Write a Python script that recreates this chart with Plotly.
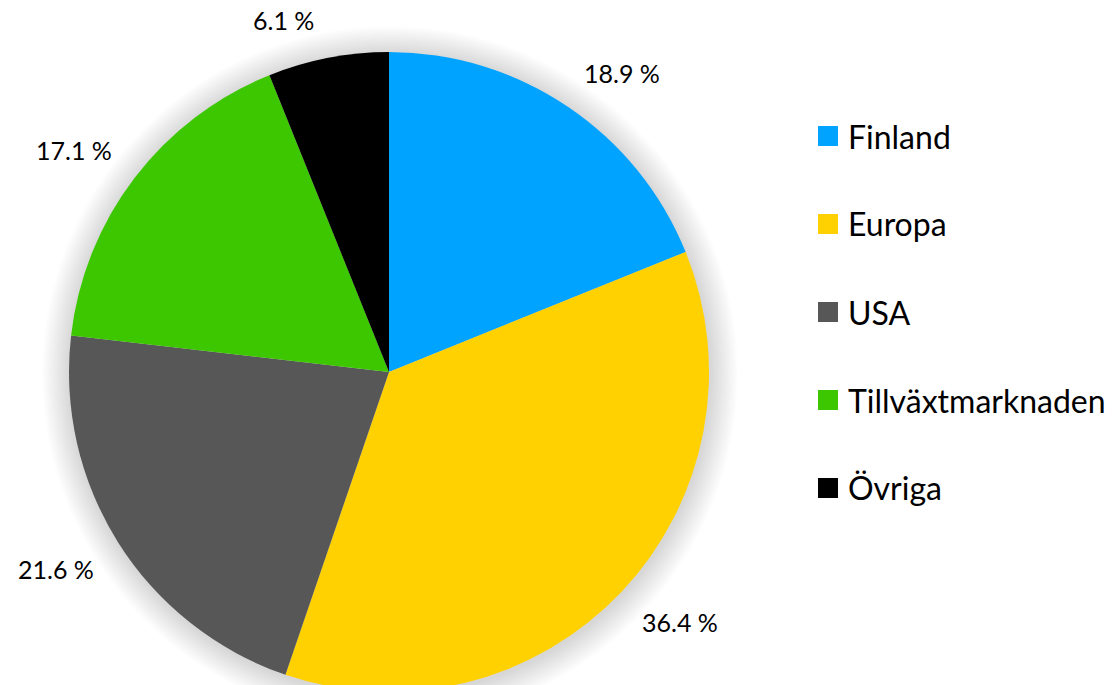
import math
import plotly.graph_objects as go

labels = ["Finland", "Europa", "USA", "Tillväxtmarknaden", "Övriga"]
values = [18.9, 36.4, 21.6, 17.1, 6.1]
colors = ["#00A3FF", "#FFD100", "#575757", "#3DC701", "#000000"]

W, VH = 1119, 685          # visible window
H = 700                    # figure slightly taller than the window: pie bottom is clipped in the original
CX, CY, R = 389, 372, 320  # pie centre / radius in pixels (from top-left)
FONT = "Lato, 'Open Sans', sans-serif"


def px_y(y):  # top-left pixel y -> paper y
    return (H - y) / H


dom_x = [(CX - R) / W, (CX + R) / W]
dom_y = [px_y(CY + R), px_y(CY - R)]

fig = go.Figure(go.Pie(
    labels=labels, values=values, sort=False, direction="clockwise", rotation=0,
    marker=dict(colors=colors, line=dict(width=0)),
    textinfo="none", hoverinfo="label+percent", showlegend=False,
    domain=dict(x=dom_x, y=dom_y),
))

shapes = []
# background bottom gradient (from ~y=520 to window bottom)
steps = 40
for i in range(steps):
    top = 520 + 165 * i / steps
    shapes.append(dict(type="rect", xref="paper", yref="paper", x0=0, x1=1,
                       y0=0, y1=px_y(top), line=dict(width=0),
                       fillcolor="rgba(0,0,0,0.0011)", layer="below"))
# soft shadow around pie
for k in range(20, 0, -1):
    rr = R + k * 1.4
    shapes.append(dict(type="circle", xref="paper", yref="paper",
                       x0=(CX - rr + 1) / W, x1=(CX + rr + 1) / W,
                       y0=px_y(CY + rr + 2), y1=px_y(CY - rr + 2),
                       line=dict(width=0), fillcolor="rgba(0,0,0,0.008)", layer="below"))

annotations = []
total = sum(values)
cum = 0
LW, LH, GAP = 80, 24, 26
for lab, v in zip(labels, values):
    mid = (cum + v / 2) / total * 2 * math.pi
    cum += v
    ux, uy = math.sin(mid), -math.cos(mid)          # screen direction
    px = CX + (R + GAP) * ux + math.copysign(LW / 2, ux)
    py = CY + (R + GAP) * uy + math.copysign(LH / 2, uy)
    annotations.append(dict(x=px / W, y=px_y(py), xref="paper", yref="paper",
                            text=f"{v} %", showarrow=False,
                            font=dict(family=FONT, size=25, color="#000"),
                            xanchor="center", yanchor="middle"))

# manual legend
LX, LY0, LDY, SQ = 818, 136, 88, 20
for i, (lab, c) in enumerate(zip(labels, colors)):
    yc = LY0 + i * LDY
    shapes.append(dict(type="rect", xref="paper", yref="paper",
                       x0=LX / W, x1=(LX + SQ) / W,
                       y0=px_y(yc + SQ / 2), y1=px_y(yc - SQ / 2),
                       line=dict(width=0), fillcolor=c))
    annotations.append(dict(x=(LX + SQ + 8) / W, y=px_y(yc), xref="paper", yref="paper",
                            text=lab, showarrow=False, xanchor="left", yanchor="middle",
                            font=dict(family=FONT, size=32, color="#000")))

fig.update_layout(
    width=W, height=H, margin=dict(l=0, r=0, t=0, b=0),
    paper_bgcolor="white", plot_bgcolor="white",
    shapes=shapes, annotations=annotations,
)
fig.write_html("out.html",
               post_script="document.body.style.margin='0';document.body.style.overflow='hidden';",
               config={"displayModeBar": False})
